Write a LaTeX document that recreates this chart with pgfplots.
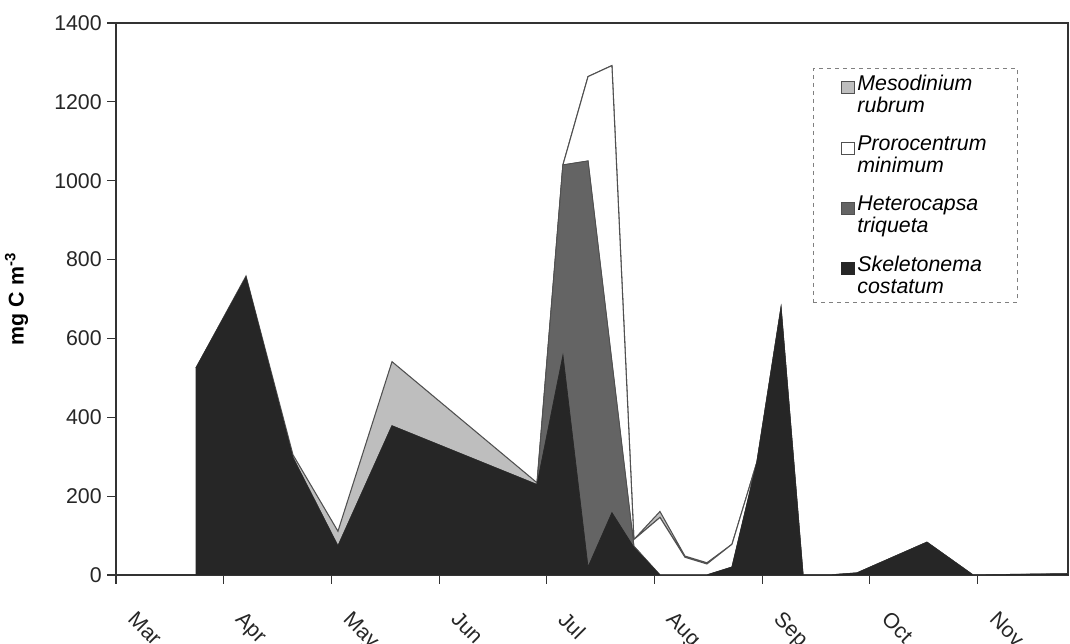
\documentclass[border=0pt]{standalone}
\usepackage{fontspec}
\setmainfont{Liberation Sans}
\usepackage{pgfplots}
\usepackage{pgfplotstable}
\pgfplotsset{compat=1.18}

\definecolor{skel}{HTML}{262626}
\definecolor{hetero}{HTML}{646464}
\definecolor{meso}{HTML}{BEBEBE}
\definecolor{edge}{HTML}{505050}
\definecolor{axisgray}{HTML}{333333}

% Carbon biomass per species (mg C m^-3); x in months from 1 March
\pgfplotstableread{
x      skel  het   pro  meso
0.743  525   0     0    0
1.207  755   0     0    3
1.643  297   0     0    8
2.061  73    0     0    38
2.563  378   0     0    163
3.909  229   0     0    5
4.150  557   483   0    0
4.383  20    1030  214  0
4.605  158   382   752  0
4.809  70    3     17   0
5.051  0     0     146  15
5.283  0     0     45   3
5.487  0     0     28   3
5.720  20    0     58   0
5.952  287   0     0    0
6.175  677   0     0    0
6.379  0     0     0    0
6.630  0     0     0    0
6.880  5     0     0    0
7.530  83    0     0    0
7.957  0     0     0    0
8.840  3     0     0    0
}\biomass

\begin{document}
\begin{tikzpicture}
\begin{axis}[
  name=ax,
  scale only axis,
  width=714pt, height=414pt,
  xmin=0, xmax=8.84,
  ymin=0, ymax=1400,
  stack plots=y,
  axis line style={axisgray, line width=1pt},
  tick pos=left,
  tick align=outside,
  major tick length=6.5pt,
  tick style={axisgray, line width=0.8pt},
  xtick={0,1,2,3,4,5,6,7,8},
  xticklabels={Mar,Apr,May,Jun,Jul,Aug,Sep,Oct,Nov},
  ytick={0,200,400,600,800,1000,1200,1400},
  scaled ticks=false,
  /pgf/number format/1000 sep={},
  /pgf/number format/assume math mode=true,
  tick label style={font=\fontsize{16}{18}\selectfont, text=black!85},
  xticklabel style={xshift=16pt, yshift=-19.75pt, rotate=-45, anchor=north west, inner sep=0pt},
  yticklabel style={inner sep=0pt, xshift=-4pt},
  ylabel={\textbf{mg C m\textsuperscript{-3}}},
  ylabel style={font=\fontsize{16}{18}\selectfont, yshift=16pt},
  legend style={
    at={(0.732,0.918)}, anchor=north west,
    draw=gray, dashed, line width=0.6pt,
    font=\fontsize{16}{16.5}\selectfont\itshape,
    cells={align=left, solid},
    inner xsep=21pt, inner ysep=3pt,
    row sep=12pt,
  },
  legend cell align=left,
  reverse legend,
  legend image code/.code={\draw[#1, solid, line width=0.6pt] (0pt,1pt) rectangle (9.5pt,10pt);},
]
\addplot[fill=skel, draw=skel, line width=0.5pt] table[x=x, y=skel] {\biomass} \closedcycle;
\addplot[fill=hetero, draw=edge, line width=0.6pt] table[x=x, y=het] {\biomass} \closedcycle;
\addplot[fill=white, draw=edge, line width=0.8pt] table[x=x, y=pro] {\biomass} \closedcycle;
\addplot[fill=meso, draw=edge, line width=0.8pt] table[x=x, y=meso] {\biomass} \closedcycle;
\legend{Skeletonema\\costatum, Heterocapsa\\triqueta, Prorocentrum\\minimum, Mesodinium\\rubrum}
\end{axis}
\pgfresetboundingbox
\path[use as bounding box] ([xshift=-87pt, yshift=-51.75pt]ax.south west) rectangle ([xshift=1.5pt, yshift=17.25pt]ax.north east);
\end{tikzpicture}
\end{document}
